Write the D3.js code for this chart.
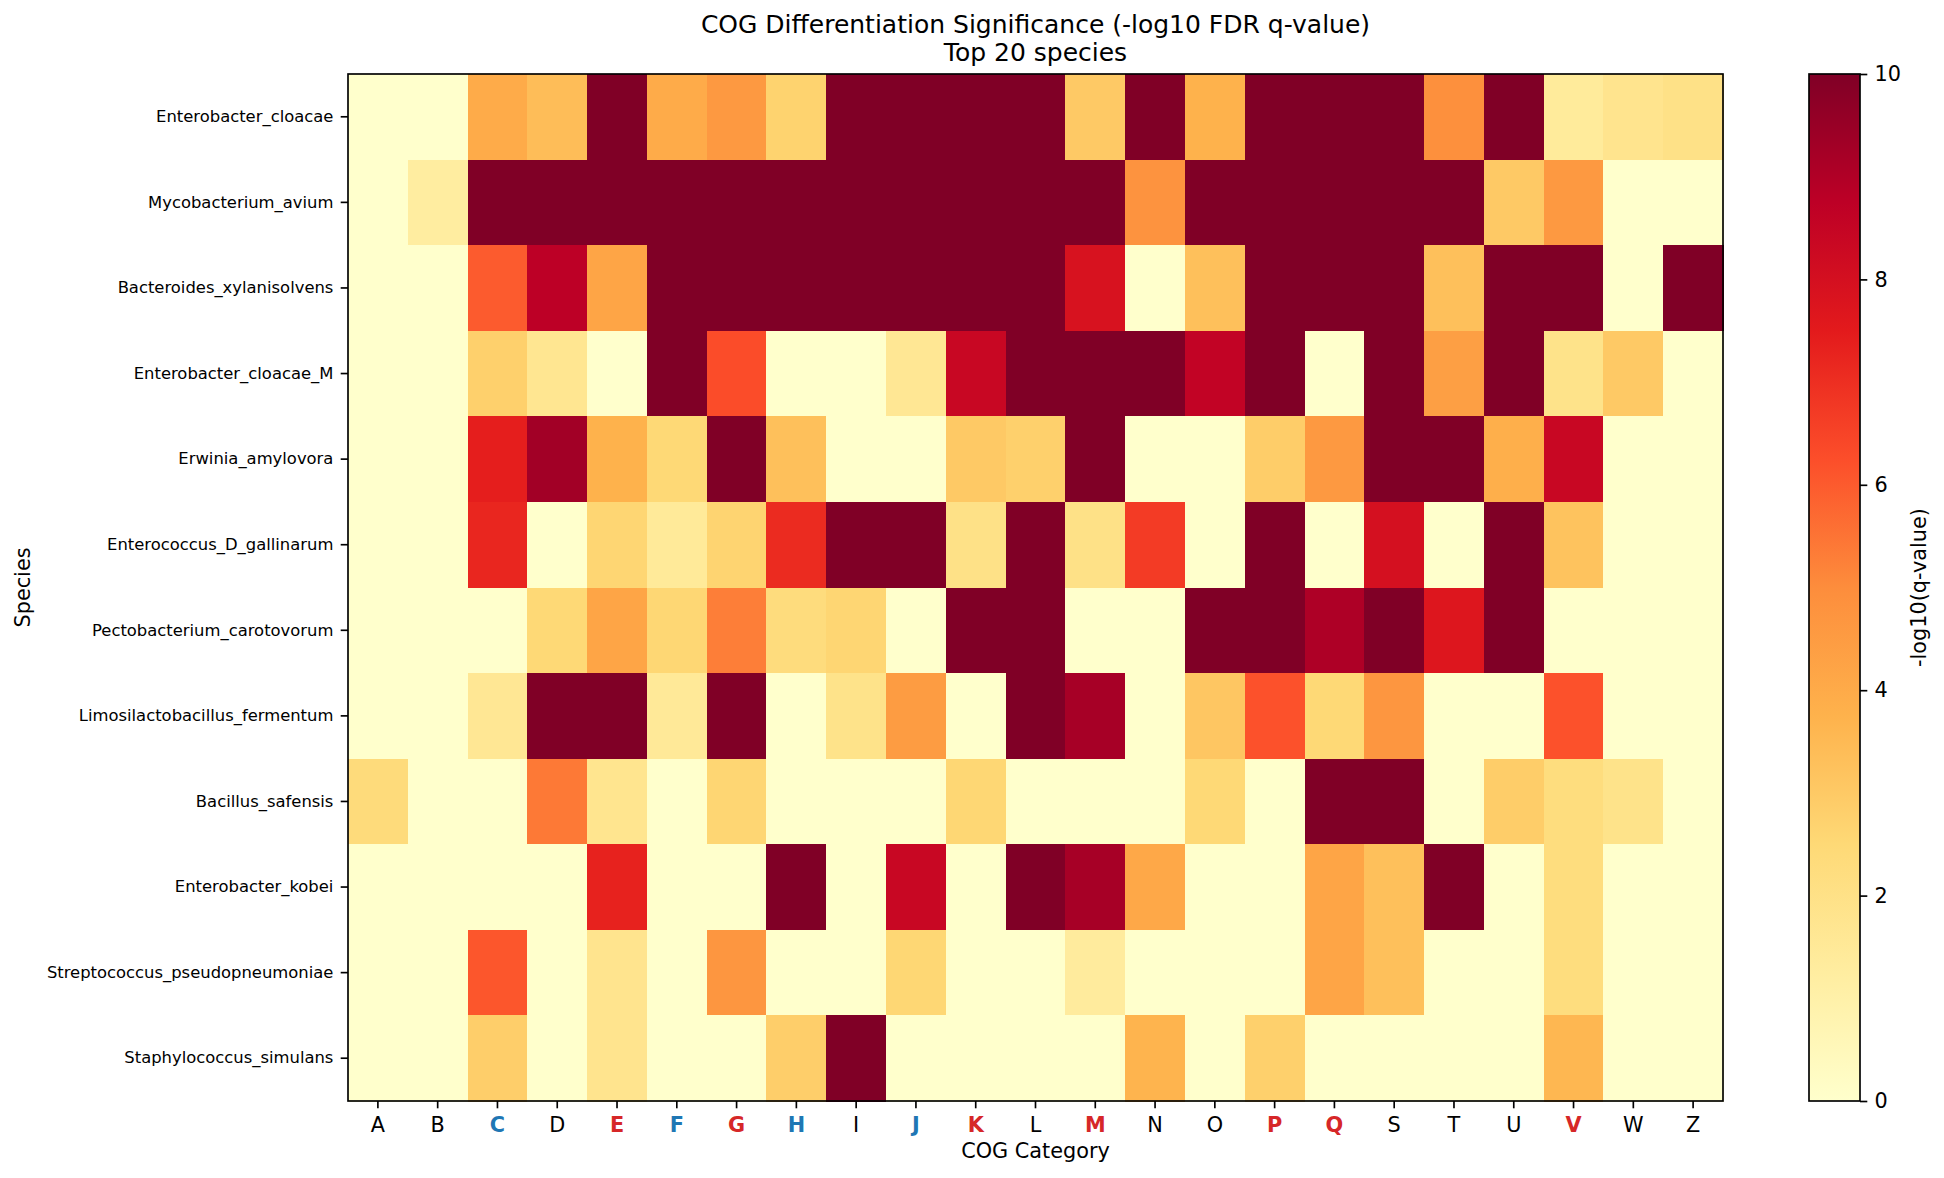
<!DOCTYPE html>
<html>
<head>
<meta charset="utf-8">
<script src="https://cdn.jsdelivr.net/npm/d3@7"></script>
<style>
    body { margin: 0; background: #fff; }
    svg { display: block; font-family: "DejaVu Sans", sans-serif; }
</style>
</head>
<body>
<div id="chart"></div>
<script>
// COG categories on the x axis, species on the y axis
const categories = ["A", "B", "C", "D", "E", "F", "G", "H", "I", "J", "K", "L", "M", "N", "O", "P", "Q", "S", "T", "U", "V", "W", "Z"];
const species = [
    "Enterobacter_cloacae",
    "Mycobacterium_avium",
    "Bacteroides_xylanisolvens",
    "Enterobacter_cloacae_M",
    "Erwinia_amylovora",
    "Enterococcus_D_gallinarum",
    "Pectobacterium_carotovorum",
    "Limosilactobacillus_fermentum",
    "Bacillus_safensis",
    "Enterobacter_kobei",
    "Streptococcus_pseudopneumoniae",
    "Staphylococcus_simulans"
];

// highlighted tick labels
const redCats = ["E", "G", "K", "M", "P", "Q", "V"];
const blueCats = ["C", "F", "H", "J"];

// -log10(q), clipped at 10 in the colour scale
//            A     B     C     D     E     F     G     H     I     J     K     L     M     N     O     P     Q     S     T     U     V     W     Z
const values = [
    [0,    0,    4.0,  3.4,  10,   4.0,  4.6,  2.7,  10,   10,   10,   10,   3.0,  10,   3.75, 10,   10,   10,   4.9,  10,   1.4,  1.8,  2.0],
    [0,    1.25, 10,   10,   10,   10,   10,   10,   10,   10,   10,   10,   10,   4.8,  10,   10,   10,   10,   10,   3.0,  4.6,  0,    0],
    [0,    0,    6.0,  8.75, 4.2,  10,   10,   10,   10,   10,   10,   10,   7.9,  0,    3.3,  10,   10,   10,   3.3,  10,   10,   0,    10],
    [0,    0,    2.8,  1.7,  0,    10,   6.3,  0,    0,    1.6,  8.4,  10,   10,   10,   8.6,  10,   0,    10,   4.4,  10,   1.9,  3.0,  0],
    [0,    0,    7.4,  9.3,  3.75, 2.5,  10,   3.3,  0,    0,    3.0,  2.8,  10,   0,    0,    2.9,  4.6,  10,   10,   3.85, 8.4,  0,    0],
    [0,    0,    7.2,  0,    2.6,  1.45, 2.65, 7.1,  10,   10,   2.0,  10,   2.0,  6.7,  0,    10,   0,    8.0,  0,    10,   3.2,  0,    0],
    [0,    0,    0,    2.5,  4.2,  2.55, 5.3,  2.3,  2.6,  0,    10,   10,   0,    0,    10,   10,   9.05, 10,   7.7,  10,   0,    0,    0],
    [0,    0,    1.6,  10,   10,   1.5,  10,   0,    1.9,  4.5,  0,    10,   9.2,  0,    3.1,  6.2,  2.5,  4.7,  0,    0,    6.2,  0,    0],
    [2.35, 0,    0,    5.4,  1.75, 0,    2.6,  0,    0,    0,    2.55, 0,    0,    0,    2.5,  0,    10,   10,   0,    2.9,  2.25, 1.9,  0],
    [0,    0,    0,    0,    7.3,  0,    0,    10,   0,    8.4,  0,    10,   9.2,  4.1,  0,    0,    4.2,  3.3,  10,   0,    2.25, 0,    0],
    [0,    0,    6.1,  0,    1.8,  0,    4.7,  0,    0,    2.55, 0,    0,    1.35, 0,    0,    0,    4.2,  3.3,  0,    0,    2.25, 0,    0],
    [0,    0,    2.85, 0,    1.8,  0,    0,    2.85, 10,   0,    0,    0,    0,    3.7,  0,    2.8,  0,    0,    0,    0,    3.6,  0,    0]
];

const colorbarTicks = [0, 2, 4, 6, 8, 10];
const vmin = 0, vmax = 10;

const width = 1944;
const height = 1178;
const plot = { left: 348, right: 1723, top: 74, bottom: 1101 };
const cbar = { left: 1809, right: 1860 };

const lw = 1.67;      // 0.8pt spines
const tickLen = 7.3;  // 3.5pt ticks

// matplotlib YlOrRd is a linear ramp through the 9 brewer colours
const ylorrd = d3.schemeYlOrRd[9];
const color = d3.scaleLinear()
    .domain(ylorrd.map((c, i) => vmin + (vmax - vmin) * i / 8))
    .range(ylorrd)
    .clamp(true);

const svg = d3.select("#chart")
    .append("svg")
    .attr("width", width)
    .attr("height", height);

const x = d3.scaleBand()
    .domain(categories)
    .range([plot.left, plot.right]);

const y = d3.scaleBand()
    .domain(species)
    .range([plot.top, plot.bottom]);

// heatmap cells
const cells = species.flatMap((s, i) => categories.map((c, j) => ({ s, c, v: values[i][j] })));

svg.append("g")
    .selectAll("rect")
    .data(cells)
    .join("rect")
    .attr("x", d => x(d.c))
    .attr("y", d => y(d.s))
    .attr("width", x.bandwidth() + 0.5)
    .attr("height", y.bandwidth() + 0.5)
    .attr("fill", d => color(d.v))
    .attr("shape-rendering", "crispEdges");

// axes
const xAxis = svg.append("g")
    .attr("transform", `translate(0,${plot.bottom})`)
    .call(d3.axisBottom(x).tickSize(tickLen).tickPadding(8.7).tickSizeOuter(0));
xAxis.select(".domain").remove();
xAxis.selectAll(".tick line").attr("stroke", "#000").attr("stroke-width", lw);
xAxis.selectAll(".tick text")
    .attr("font-family", "DejaVu Sans")
    .attr("font-size", 20.8)
    .attr("fill", d => redCats.includes(d) ? "#d62728" : blueCats.includes(d) ? "#1f77b4" : "#000")
    .attr("font-weight", d => redCats.includes(d) || blueCats.includes(d) ? "bold" : "normal");

const yAxis = svg.append("g")
    .attr("transform", `translate(${plot.left},0)`)
    .call(d3.axisLeft(y).tickSize(tickLen).tickPadding(7.3).tickSizeOuter(0));
yAxis.select(".domain").remove();
yAxis.selectAll(".tick line").attr("stroke", "#000").attr("stroke-width", lw);
yAxis.selectAll(".tick text")
    .attr("font-family", "DejaVu Sans")
    .attr("font-size", 16.4)
    .attr("fill", "#000");

// spines
svg.append("rect")
    .attr("x", plot.left)
    .attr("y", plot.top)
    .attr("width", plot.right - plot.left)
    .attr("height", plot.bottom - plot.top)
    .attr("fill", "none")
    .attr("stroke", "#000")
    .attr("stroke-width", lw);

// axis labels
svg.append("text")
    .attr("x", (plot.left + plot.right) / 2)
    .attr("y", 1158)
    .attr("text-anchor", "middle")
    .attr("font-size", 20.8)
    .text("COG Category");

svg.append("text")
    .attr("transform", `translate(30,${(plot.top + plot.bottom) / 2}) rotate(-90)`)
    .attr("text-anchor", "middle")
    .attr("font-size", 20.8)
    .text("Species");

// title
svg.append("text")
    .attr("x", (plot.left + plot.right) / 2)
    .attr("y", 33)
    .attr("text-anchor", "middle")
    .attr("font-size", 25)
    .text("COG Differentiation Significance (-log10 FDR q-value)");

svg.append("text")
    .attr("x", (plot.left + plot.right) / 2)
    .attr("y", 61)
    .attr("text-anchor", "middle")
    .attr("font-size", 25)
    .text("Top 20 species");

// colorbar
const grad = svg.append("defs")
    .append("linearGradient")
    .attr("id", "cbgrad")
    .attr("x1", 0).attr("y1", 1)
    .attr("x2", 0).attr("y2", 0);

grad.selectAll("stop")
    .data(ylorrd)
    .join("stop")
    .attr("offset", (d, i) => i / 8)
    .attr("stop-color", d => d);

const cbScale = d3.scaleLinear()
    .domain([vmin, vmax])
    .range([plot.bottom, plot.top]);

svg.append("rect")
    .attr("x", cbar.left)
    .attr("y", plot.top)
    .attr("width", cbar.right - cbar.left)
    .attr("height", plot.bottom - plot.top)
    .attr("fill", "url(#cbgrad)")
    .attr("stroke", "#000")
    .attr("stroke-width", lw);

const cbAxis = svg.append("g")
    .attr("transform", `translate(${cbar.right},0)`)
    .call(d3.axisRight(cbScale).tickValues(colorbarTicks).tickSize(tickLen).tickPadding(7.3));
cbAxis.select(".domain").remove();
cbAxis.selectAll(".tick line").attr("stroke", "#000").attr("stroke-width", lw);
cbAxis.selectAll(".tick text")
    .attr("font-family", "DejaVu Sans")
    .attr("font-size", 20.8)
    .attr("fill", "#000");

svg.append("text")
    .attr("transform", `translate(1926,${(plot.top + plot.bottom) / 2}) rotate(-90)`)
    .attr("text-anchor", "middle")
    .attr("font-size", 20.8)
    .text("-log10(q-value)");
</script>
</body>
</html>
